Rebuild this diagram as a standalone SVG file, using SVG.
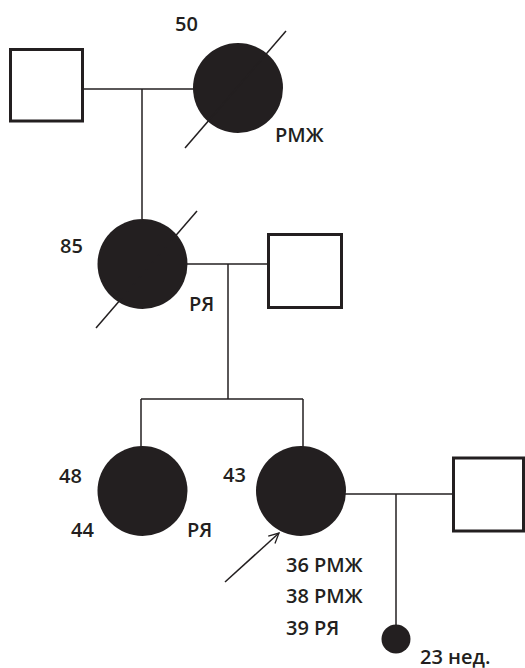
<svg xmlns="http://www.w3.org/2000/svg" width="525" height="668" viewBox="0 0 525 668">
  <style>
    .male { fill: #ffffff; stroke: #231f20; stroke-width: 3; }
    .female { fill: #231f20; }
    .ln { fill: none; stroke: #231f20; stroke-width: 1.5; }
    .lbl { font-family: "Open Sans", "Liberation Sans", sans-serif; font-weight: 600; font-size: 20px; fill: #231f20; }
  </style>
  <defs>
    <marker id="open-arrow" viewBox="0 0 12 12" refX="11" refY="6" markerWidth="12" markerHeight="12" markerUnits="userSpaceOnUse" orient="auto">
      <path d="M1,1 L11,6 L1,11" fill="none" stroke="#231f20" stroke-width="1.3"/>
    </marker>
  </defs>

  <!-- connectors -->
  <g id="connectors" class="ln">
    <line x1="83" y1="89" x2="194" y2="89"/>
    <line x1="142" y1="89" x2="142" y2="219"/>
    <line x1="187" y1="264" x2="268" y2="264"/>
    <line x1="228" y1="264" x2="228" y2="399"/>
    <line x1="141" y1="399" x2="303" y2="399"/>
    <line x1="141" y1="399" x2="141" y2="447"/>
    <line x1="303" y1="399" x2="303" y2="447"/>
    <line x1="345" y1="494" x2="453" y2="494"/>
    <line x1="396" y1="494" x2="396" y2="625"/>
    <line x1="225" y1="582" x2="279" y2="533" marker-end="url(#open-arrow)"/>
  </g>

  <!-- generation I -->
  <g id="grandfather">
    <rect class="male" x="10.5" y="49.5" width="72" height="71.5"/>
  </g>
  <g id="grandmother">
    <circle class="female" cx="238" cy="88" r="45"/>
    <line class="ln" x1="286" y1="31" x2="185" y2="148"/>
    <text class="lbl" x="175" y="30.5">50</text>
    <text class="lbl" x="275" y="141.5">РМЖ</text>
  </g>

  <!-- generation II -->
  <g id="mother">
    <circle class="female" cx="142.5" cy="264" r="45"/>
    <line class="ln" x1="197" y1="211" x2="96" y2="328"/>
    <text class="lbl" x="60" y="253">85</text>
    <text class="lbl" x="189" y="310.5">РЯ</text>
  </g>
  <g id="father">
    <rect class="male" x="268.5" y="234.5" width="73" height="73"/>
  </g>

  <!-- generation III -->
  <g id="sister">
    <circle class="female" cx="142.5" cy="491" r="45"/>
    <text class="lbl" x="59" y="482.5">48</text>
    <text class="lbl" x="71" y="537">44</text>
    <text class="lbl" x="187" y="537">РЯ</text>
  </g>
  <g id="proband">
    <circle class="female" cx="301" cy="491" r="45"/>
    <text class="lbl" x="223" y="481.5">43</text>
    <text class="lbl" x="286" y="571.5">36 РМЖ</text>
    <text class="lbl" x="286" y="603">38 РМЖ</text>
    <text class="lbl" x="286" y="634.5">39 РЯ</text>
  </g>
  <g id="spouse">
    <rect class="male" x="453.5" y="458" width="70" height="73"/>
  </g>

  <!-- generation IV -->
  <g id="pregnancy">
    <circle class="female" cx="396" cy="639" r="14.5"/>
    <text class="lbl" x="420" y="664">23 нед.</text>
  </g>
</svg>
